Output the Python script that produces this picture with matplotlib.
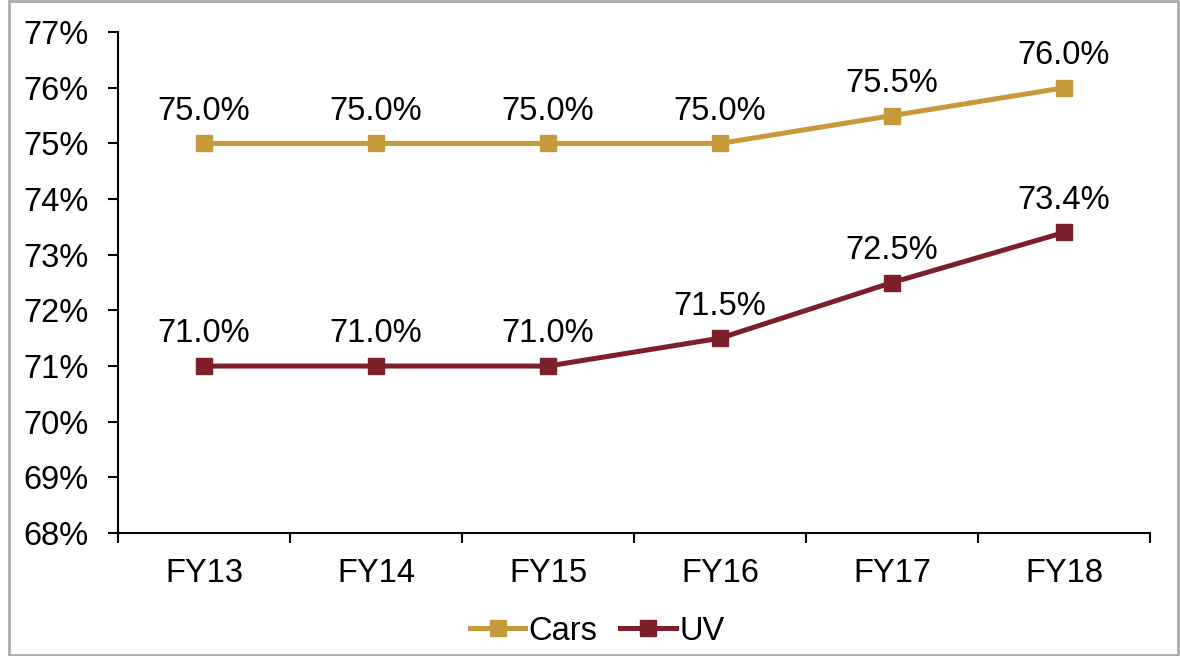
import matplotlib
matplotlib.use("Agg")
import matplotlib.pyplot as plt
from matplotlib.patches import Rectangle
from matplotlib.ticker import FixedLocator, FuncFormatter

plt.rcParams['font.family'] = ['Liberation Sans', 'DejaVu Sans']

# data
years = ['FY13', 'FY14', 'FY15', 'FY16', 'FY17', 'FY18']
cars = [75.0, 75.0, 75.0, 75.0, 75.5, 76.0]
uv = [71.0, 71.0, 71.0, 71.5, 72.5, 73.4]
y_ticks = [68, 69, 70, 71, 72, 73, 74, 75, 76, 77]

gold = '#C8993B'
maroon = '#7D1E2B'
fs = 23.5

fig = plt.figure(figsize=(11.8, 6.56), dpi=100)
ax = fig.add_axes([0.1, 0.1875, 0.8746, 0.7635])

x = list(range(len(years)))
ax.plot(x, cars, color=gold, lw=3.6, marker='s', ms=11, label='Cars')
ax.plot(x, uv, color=maroon, lw=3.6, marker='s', ms=11, label='UV')

for xi, v in zip(x, cars):
    ax.annotate(f'{v:.1f}%', (xi, v), xytext=(0, 17), textcoords='offset points',
                ha='center', va='baseline', fontsize=fs)
for xi, v in zip(x, uv):
    ax.annotate(f'{v:.1f}%', (xi, v), xytext=(0, 17), textcoords='offset points',
                ha='center', va='baseline', fontsize=fs)

ax.set_xlim(-0.5, len(years) - 0.5)
ax.set_ylim(68, 77)
ax.set_yticks(y_ticks)
ax.yaxis.set_major_formatter(FuncFormatter(lambda v, p: f'{v:.0f}%'))

# category boundaries carry the tick marks, labels sit at the centres
ax.xaxis.set_major_locator(FixedLocator([i - 0.5 for i in range(len(years) + 1)]))
ax.xaxis.set_major_formatter(FuncFormatter(lambda v, p: ''))
ax.xaxis.set_minor_locator(FixedLocator(x))
ax.set_xticklabels(years, minor=True)

ax.tick_params(axis='y', direction='out', length=7, width=1.5, pad=14, labelsize=fs)
ax.tick_params(axis='x', which='major', direction='out', length=7, width=1.5)
ax.tick_params(axis='x', which='minor', length=0, pad=18, labelsize=fs)

for s in ['top', 'right']:
    ax.spines[s].set_visible(False)
for s in ['left', 'bottom']:
    ax.spines[s].set_linewidth(1.5)

fig.legend(loc='center', bbox_to_anchor=(0.506, 0.038), ncol=2, frameon=False,
           fontsize=fs, handlelength=1.7, handletextpad=0.1, columnspacing=0.7)

fig.add_artist(Rectangle((0.008, 0.0015), 0.990, 0.997, transform=fig.transFigure,
                         fill=False, edgecolor='#ABABAB', lw=2))

fig.savefig('out.png', dpi=100)
